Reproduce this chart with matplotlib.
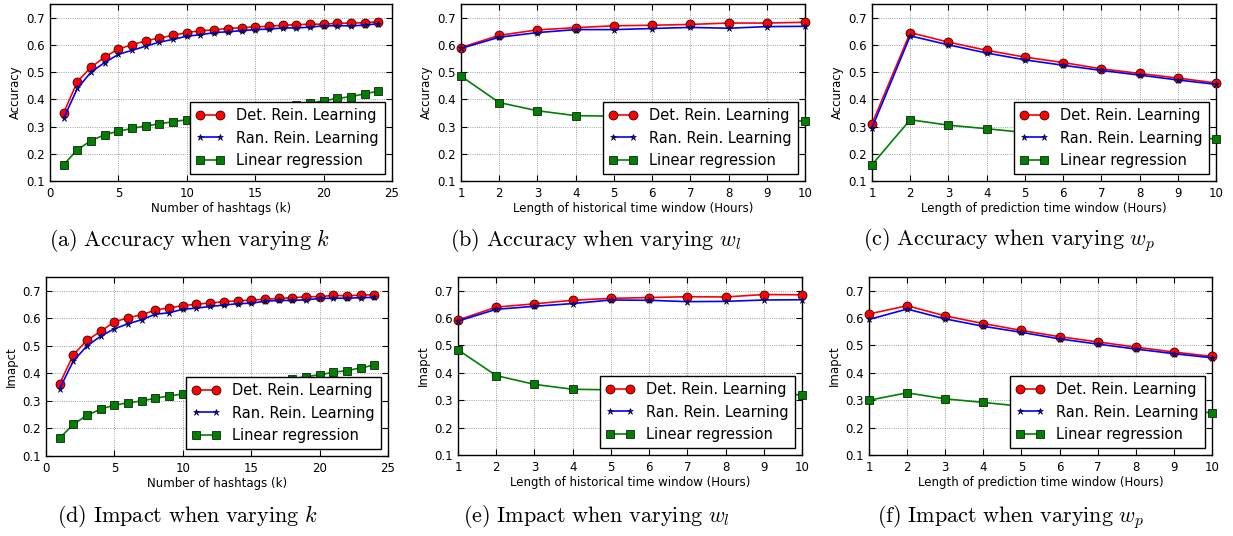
import matplotlib
matplotlib.use("Agg")
import matplotlib.pyplot as plt

# ---------------- data ----------------
k_vals = list(range(1, 25))
w_vals = list(range(1, 11))

series_labels = ["Det. Rein. Learning", "Ran. Rein. Learning", "Linear regression"]

# (a) Accuracy vs k
acc_k_det = [0.350, 0.465, 0.518, 0.555, 0.585, 0.600, 0.615, 0.625, 0.635, 0.645, 0.652, 0.655,
             0.660, 0.663, 0.666, 0.668, 0.672, 0.674, 0.676, 0.676, 0.679, 0.680, 0.681, 0.685]
acc_k_ran = [0.330, 0.440, 0.500, 0.535, 0.565, 0.580, 0.595, 0.610, 0.620, 0.632, 0.637, 0.645,
             0.648, 0.652, 0.656, 0.658, 0.662, 0.662, 0.665, 0.670, 0.670, 0.670, 0.672, 0.678]
acc_k_lin = [0.160, 0.215, 0.248, 0.270, 0.283, 0.293, 0.302, 0.310, 0.318, 0.325, 0.332, 0.338,
             0.344, 0.350, 0.356, 0.363, 0.370, 0.378, 0.385, 0.395, 0.403, 0.410, 0.420, 0.430]

# (b) Accuracy vs w_l
acc_wl_det = [0.590, 0.635, 0.655, 0.663, 0.670, 0.672, 0.675, 0.680, 0.680, 0.683]
acc_wl_ran = [0.587, 0.628, 0.645, 0.656, 0.656, 0.660, 0.664, 0.661, 0.667, 0.668]
acc_wl_lin = [0.485, 0.388, 0.358, 0.340, 0.338, 0.333, 0.330, 0.326, 0.323, 0.320]

# (c) Accuracy vs w_p
acc_wp_det = [0.310, 0.645, 0.610, 0.580, 0.555, 0.535, 0.512, 0.495, 0.478, 0.460]
acc_wp_ran = [0.295, 0.633, 0.600, 0.570, 0.545, 0.525, 0.506, 0.489, 0.471, 0.455]
acc_wp_lin = [0.160, 0.325, 0.305, 0.292, 0.278, 0.272, 0.267, 0.263, 0.259, 0.255]

# (d) Impact vs k
imp_k_det = [0.362, 0.468, 0.520, 0.553, 0.587, 0.602, 0.613, 0.630, 0.638, 0.646, 0.651, 0.656,
             0.660, 0.664, 0.666, 0.669, 0.672, 0.675, 0.678, 0.679, 0.683, 0.682, 0.684, 0.686]
imp_k_ran = [0.345, 0.445, 0.500, 0.535, 0.562, 0.580, 0.595, 0.615, 0.620, 0.633, 0.637, 0.643,
             0.648, 0.653, 0.655, 0.662, 0.665, 0.665, 0.667, 0.672, 0.673, 0.673, 0.675, 0.676]
imp_k_lin = [0.165, 0.215, 0.248, 0.270, 0.285, 0.293, 0.300, 0.310, 0.318, 0.325, 0.332, 0.338,
             0.345, 0.351, 0.358, 0.365, 0.372, 0.380, 0.388, 0.395, 0.404, 0.410, 0.420, 0.430]

# (e) Impact vs w_l
imp_wl_det = [0.593, 0.640, 0.652, 0.665, 0.672, 0.675, 0.678, 0.677, 0.686, 0.685]
imp_wl_ran = [0.589, 0.632, 0.643, 0.653, 0.666, 0.665, 0.660, 0.661, 0.666, 0.667]
imp_wl_lin = [0.484, 0.390, 0.358, 0.340, 0.338, 0.334, 0.330, 0.327, 0.323, 0.320]

# (f) Impact vs w_p
imp_wp_det = [0.615, 0.645, 0.608, 0.580, 0.555, 0.532, 0.513, 0.494, 0.476, 0.460]
imp_wp_ran = [0.595, 0.633, 0.597, 0.570, 0.548, 0.524, 0.505, 0.487, 0.470, 0.455]
imp_wp_lin = [0.300, 0.327, 0.305, 0.292, 0.278, 0.272, 0.267, 0.263, 0.259, 0.255]

x_label_k = "Number of hashtags (k)"
x_label_wl = "Length of historical time window (Hours)"
x_label_wp = "Length of prediction time window (Hours)"

captions = [
    r"$\mathrm{(a)\ Accuracy\ when\ varying\ }k$",
    r"$\mathrm{(b)\ Accuracy\ when\ varying\ }w_l$",
    r"$\mathrm{(c)\ Accuracy\ when\ varying\ }w_p$",
    r"$\mathrm{(d)\ Impact\ when\ varying\ }k$",
    r"$\mathrm{(e)\ Impact\ when\ varying\ }w_l$",
    r"$\mathrm{(f)\ Impact\ when\ varying\ }w_p$",
]

# ---------------- style ----------------
plt.rcParams.update({
    "font.family": ["DejaVu Sans"],
    "mathtext.fontset": "cm",
    "xtick.direction": "in",
    "ytick.direction": "in",
    "xtick.top": True,
    "ytick.right": True,
    "xtick.major.size": 4,
    "ytick.major.size": 4,
    "axes.linewidth": 1.0,
})

W, H = 1233, 536
fig = plt.figure(figsize=(W / 100, H / 100), dpi=100)

def ax_at(left, right, top, bottom):
    return fig.add_axes([left / W, 1 - bottom / H, (right - left) / W, (bottom - top) / H])

panels = [
    ((50, 392, 4, 181), k_vals, acc_k_det, acc_k_ran, acc_k_lin, x_label_k, "Accuracy", (0, 25), [0, 5, 10, 15, 20, 25]),
    ((461, 805, 4, 181), w_vals, acc_wl_det, acc_wl_ran, acc_wl_lin, x_label_wl, "Accuracy", (1, 10), w_vals),
    ((872, 1216, 4, 181), w_vals, acc_wp_det, acc_wp_ran, acc_wp_lin, x_label_wp, "Accuracy", (1, 10), w_vals),
    ((46, 388, 277, 456), k_vals, imp_k_det, imp_k_ran, imp_k_lin, x_label_k, "Imapct", (0, 25), [0, 5, 10, 15, 20, 25]),
    ((458, 802, 277, 455), w_vals, imp_wl_det, imp_wl_ran, imp_wl_lin, x_label_wl, "Imapct", (1, 10), w_vals),
    ((869, 1212, 277, 455), w_vals, imp_wp_det, imp_wp_ran, imp_wp_lin, x_label_wp, "Imapct", (1, 10), w_vals),
]

caption_pos = [(190, 240), (596, 240), (1009, 240), (187, 517), (596, 517), (1011, 517)]

for (box, xs, det, ran, lin, xl, yl, xlim, xt), cap, cpos in zip(panels, captions, caption_pos):
    ax = ax_at(*box)
    ax.plot(xs, det, color="#ff0000", marker="o", markersize=6.5, markeredgecolor="black",
            markeredgewidth=0.5, linewidth=1.2, label=series_labels[0], clip_on=False, zorder=3)
    ax.plot(xs, ran, color="#0000ff", marker="*", markersize=5, markeredgecolor="black",
            markeredgewidth=0.4, linewidth=1.2, label=series_labels[1], clip_on=False, zorder=3)
    ax.plot(xs, lin, color="#008000", marker="s", markersize=5.5, markeredgecolor="black",
            markeredgewidth=0.5, linewidth=1.2, label=series_labels[2], clip_on=False, zorder=3)
    ax.set_xlim(*xlim)
    ax.set_ylim(0.1, 0.75)
    ax.set_xticks(xt)
    ax.set_yticks([0.1, 0.2, 0.3, 0.4, 0.5, 0.6, 0.7])
    ax.tick_params(labelsize=8.5, pad=4)
    ax.grid(True, linestyle=":", color="0.5", linewidth=0.6)
    ax.set_xlabel(xl, fontsize=8.5, labelpad=2)
    ax.set_ylabel(yl, fontsize=8.5, labelpad=3)
    leg = ax.legend(loc="lower right", fontsize=10.5, numpoints=2, fancybox=False,
                    framealpha=1, edgecolor="black", borderaxespad=0.5)
    leg.get_frame().set_linewidth(1.0)
    leg.set_zorder(5)
    fig.text(cpos[0] / W, 1 - cpos[1] / H, cap, fontsize=16, ha="center", va="center")

fig.savefig("out.png", dpi=100, facecolor="white")
